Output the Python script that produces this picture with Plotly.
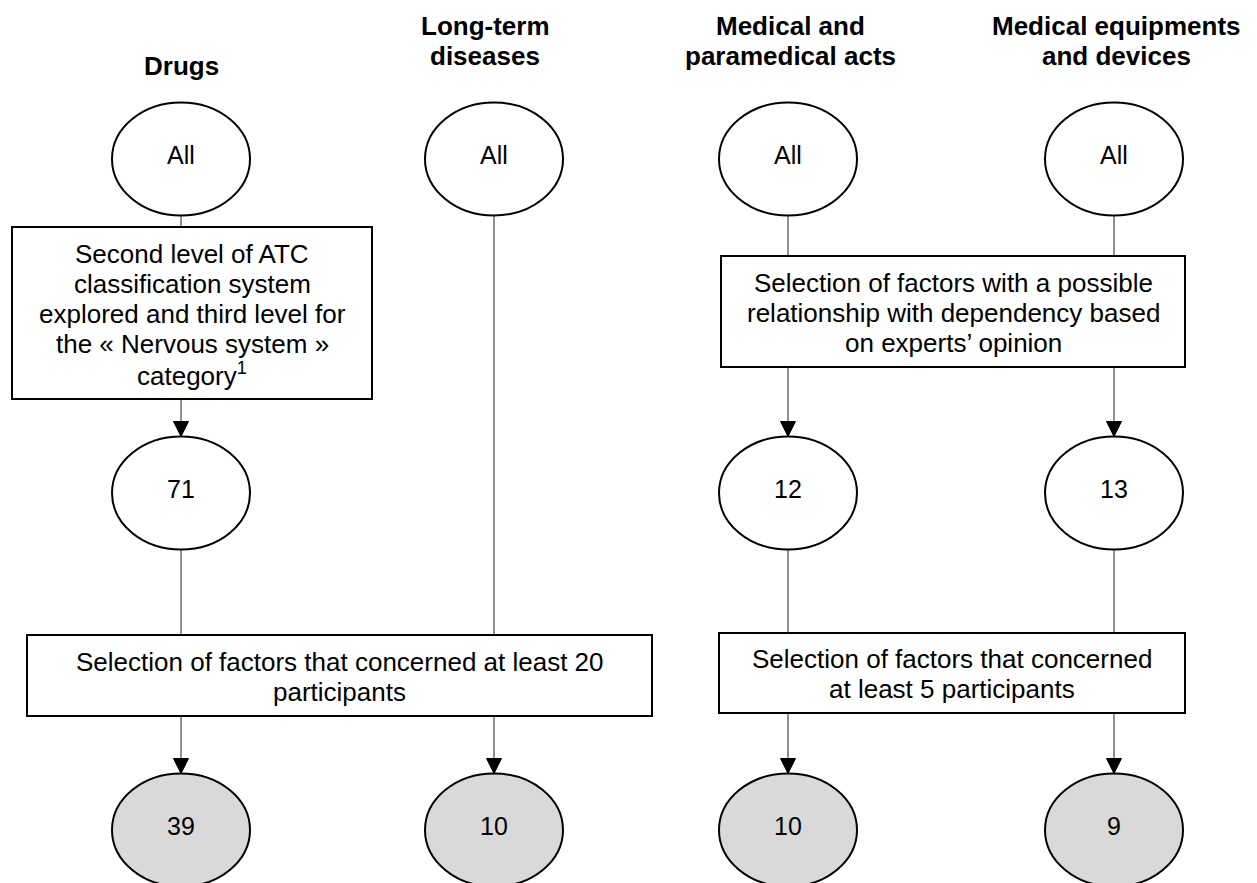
import plotly.graph_objects as go

# ---------------- data ----------------
categories = ["Drugs", "Long-term diseases", "Medical and paramedical acts",
              "Medical equipments and devices"]
title_lines = [["Drugs"], ["Long-term", "diseases"], ["Medical and", "paramedical acts"],
               ["Medical equipments", "and devices"]]
start_counts = ["All", "All", "All", "All"]
after_first_filter = ["71", None, "12", "13"]
final_counts = ["39", "10", "10", "9"]

atc_filter_text = ["Second level of ATC", "classification system",
                   "explored and third level for", "the « Nervous system »",
                   "category<sup>1</sup>"]
expert_filter_text = ["Selection of factors with a possible",
                      "relationship with dependency based", "on experts’ opinion"]
filter20_text = ["Selection of factors that concerned at least 20", "participants"]
filter5_text = ["Selection of factors that concerned", "at least 5 participants"]

# ---------------- layout constants ----------------
W, H = 1257, 883
FONT = "Liberation Sans, Arial, sans-serif"
col_x = [181, 494, 788, 1114]
title_x = [181, 485, 790, 1116]
RX, RY = 69, 56.5
top_cy, mid_cy, bot_cy = 159, 493, 830
# boxes: (x0, y0, x1, y1)
box_atc = (12, 227, 372, 399)
box_exp = (721, 256, 1185, 367)
box_20 = (27, 635, 652, 716)
box_5 = (719, 633, 1185, 713)
LINE_SP = 30
BOX_FS = 26
NODE_FS = 25
TITLE_FS = 26
ARW, ARH = 15, 15

fig = go.Figure()
shapes = []
annotations = []


def add_text(x, y, text, size, bold=False):
    annotations.append(dict(
        x=x, y=y, xref="x", yref="y", text=("<b>%s</b>" % text) if bold else text,
        showarrow=False, xanchor="center", yanchor="middle",
        font=dict(family=FONT, size=size, color="black")))


def add_ellipse(cx, cy, label, fill):
    shapes.append(dict(type="circle", xref="x", yref="y",
                       x0=cx - RX, x1=cx + RX, y0=cy - RY, y1=cy + RY,
                       line=dict(color="black", width=2), fillcolor=fill))
    add_text(cx, cy - 4, label, NODE_FS)


def add_box(box, lines):
    x0, y0, x1, y1 = box
    shapes.append(dict(type="rect", xref="x", yref="y", x0=x0, x1=x1, y0=y0, y1=y1,
                       line=dict(color="black", width=2), fillcolor="white"))
    cy = (y0 + y1) / 2 + 1
    n = len(lines)
    for i, t in enumerate(lines):
        add_text((x0 + x1) / 2, cy + (i - (n - 1) / 2) * LINE_SP, t, BOX_FS)


def add_edge(x, y_from, y_to, arrow):
    end = y_to - ARH if arrow else y_to
    shapes.append(dict(type="line", xref="x", yref="y", x0=x, x1=x, y0=y_from, y1=end,
                       line=dict(color="#222222", width=1)))
    if arrow:
        shapes.append(dict(type="path", xref="x", yref="y",
                           path="M %g,%g L %g,%g L %g,%g Z" % (x - ARW / 2, y_to - ARH,
                                                               x + ARW / 2, y_to - ARH,
                                                               x, y_to),
                           fillcolor="black", line=dict(color="black", width=1)))


# titles
for i, lines in enumerate(title_lines):
    if len(lines) == 1:
        add_text(title_x[i], 66, lines[0], TITLE_FS, bold=True)
    else:
        for j, t in enumerate(lines):
            add_text(title_x[i], 26 + j * 30, t, TITLE_FS, bold=True)

# boxes
add_box(box_atc, atc_filter_text)
add_box(box_exp, expert_filter_text)
add_box(box_20, filter20_text)
add_box(box_5, filter5_text)

box_first = [box_atc, None, box_exp, box_exp]
box_second = [box_20, box_20, box_5, box_5]

for i, x in enumerate(col_x):
    add_ellipse(x, top_cy, start_counts[i], "white")
    if after_first_filter[i] is not None:
        add_ellipse(x, mid_cy, after_first_filter[i], "white")
        add_edge(x, top_cy + RY, box_first[i][1], False)
        add_edge(x, box_first[i][3], mid_cy - RY, True)
        add_edge(x, mid_cy + RY, box_second[i][1], False)
    else:
        add_edge(x, top_cy + RY, box_second[i][1], False)
    add_edge(x, box_second[i][3], bot_cy - RY, True)
    add_ellipse(x, bot_cy, final_counts[i], "#d9d9d9")

fig.update_layout(
    width=W, height=H, autosize=False,
    margin=dict(l=0, r=0, t=0, b=0),
    paper_bgcolor="white", plot_bgcolor="white",
    xaxis=dict(range=[0, W], visible=False, fixedrange=True),
    yaxis=dict(range=[H, 0], visible=False, fixedrange=True),
    shapes=shapes, annotations=annotations, showlegend=False,
)

fig.write_html("out.html", config={"displayModeBar": False},
               post_script="document.body.style.margin='0';document.body.style.overflow='hidden';")
